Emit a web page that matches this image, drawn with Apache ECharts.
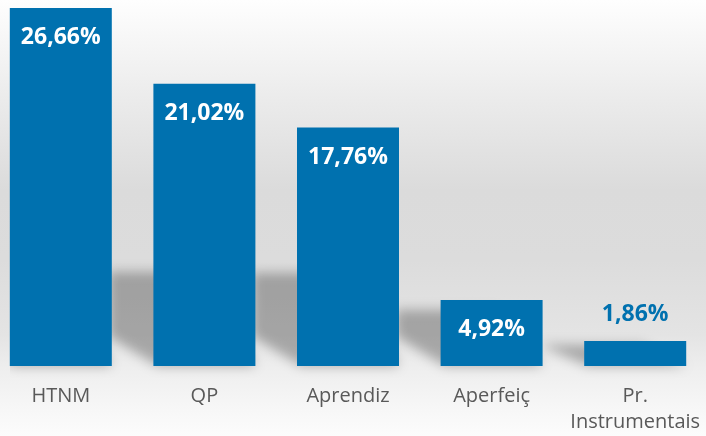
<!DOCTYPE html>
<html>
<head>
<meta charset="utf-8">
<script src="https://cdn.jsdelivr.net/npm/echarts@6/dist/echarts.min.js"></script>
<style>
  html, body { margin: 0; padding: 0; }
  #wrap {
    position: relative; width: 706px; height: 436px; overflow: hidden;
    background: linear-gradient(to bottom, #fefefe 0px, #ebebeb 100px, #dbdbdb 190px, #dcdcdc 260px, #e4e4e4 335px, #eeeeee 368px, #f6f6f6 405px, #fcfcfc 436px);
  }
  #shadow, #main { position: absolute; left: 0; top: 0; width: 706px; height: 436px; }
  #shadow { filter: blur(6px); clip-path: inset(0 0 0 10px); }
</style>
</head>
<body>
<div id="wrap">
  <div id="shadow"></div>
  <div id="main"></div>
</div>
<script>
const categories = ['HTNM', 'QP', 'Aprendiz', 'Aperfeiç', 'Pr.\nInstrumentais'];
const values = [26.66, 21.02, 17.76, 4.92, 1.86];

const barColor = '#0071af';
const yMax = 27.25;

const fmt = (v) => v.toFixed(2).replace('.', ',') + '%';

const baseAxes = (showLabels) => ({
  grid: { left: -11, width: 718, top: 0, bottom: 70, outerBoundsMode: 'none', containLabel: false },
  xAxis: {
    type: 'category',
    data: categories,
    axisLine: { show: false },
    axisTick: { show: false },
    axisLabel: {
      show: showLabels,
      color: '#595959',
      fontFamily: 'Open Sans',
      fontSize: 20,
      lineHeight: 26,
      margin: 17,
      interval: 0
    }
  },
  yAxis: {
    type: 'value',
    min: 0,
    max: yMax,
    show: false,
    splitLine: { show: false }
  }
});

// soft cast shadow behind each bar
const shadowChart = echarts.init(document.getElementById('shadow'));
shadowChart.setOption(Object.assign(baseAxes(false), {
  animation: false,
  series: [{
    type: 'custom',
    data: values.map((v, i) => [i, v]),
    renderItem: (params, api) => {
      const base = api.coord([api.value(0), 0]);
      const top = api.coord([api.value(0), api.value(1)]);
      const h = base[1] - top[1];
      const sh = Math.min(h * 0.85, 95 * (1 - Math.exp(-h / 60)));
      const x0 = base[0] - 51;
      const x1 = base[0] + 51;
      const dx = 45;
      const B = base[1];
      return {
        type: 'polygon',
        shape: {
          points: [[x0 + 4, B], [x0 - dx, B - Math.min(30, sh)], [x0 - dx, B - sh], [x1 - dx, B - sh], [x1, B]]
        },
        style: { fill: 'rgba(0,0,0,0.28)' }
      };
    }
  }]
}));

const chart = echarts.init(document.getElementById('main'));
chart.setOption(Object.assign(baseAxes(true), {
  animation: false,
  series: [{
    type: 'bar',
    barWidth: 102,
    itemStyle: { color: barColor },
    data: values.map((v) => {
      const inside = v > 3;
      return {
        value: v,
        label: {
          show: true,
          formatter: fmt(v),
          position: inside ? 'insideTop' : 'top',
          distance: inside ? 18 : 15,
          color: inside ? '#ffffff' : barColor,
          fontFamily: 'Open Sans',
          fontWeight: 'bold',
          fontSize: 23
        }
      };
    })
  }]
}));
</script>
</body>
</html>
